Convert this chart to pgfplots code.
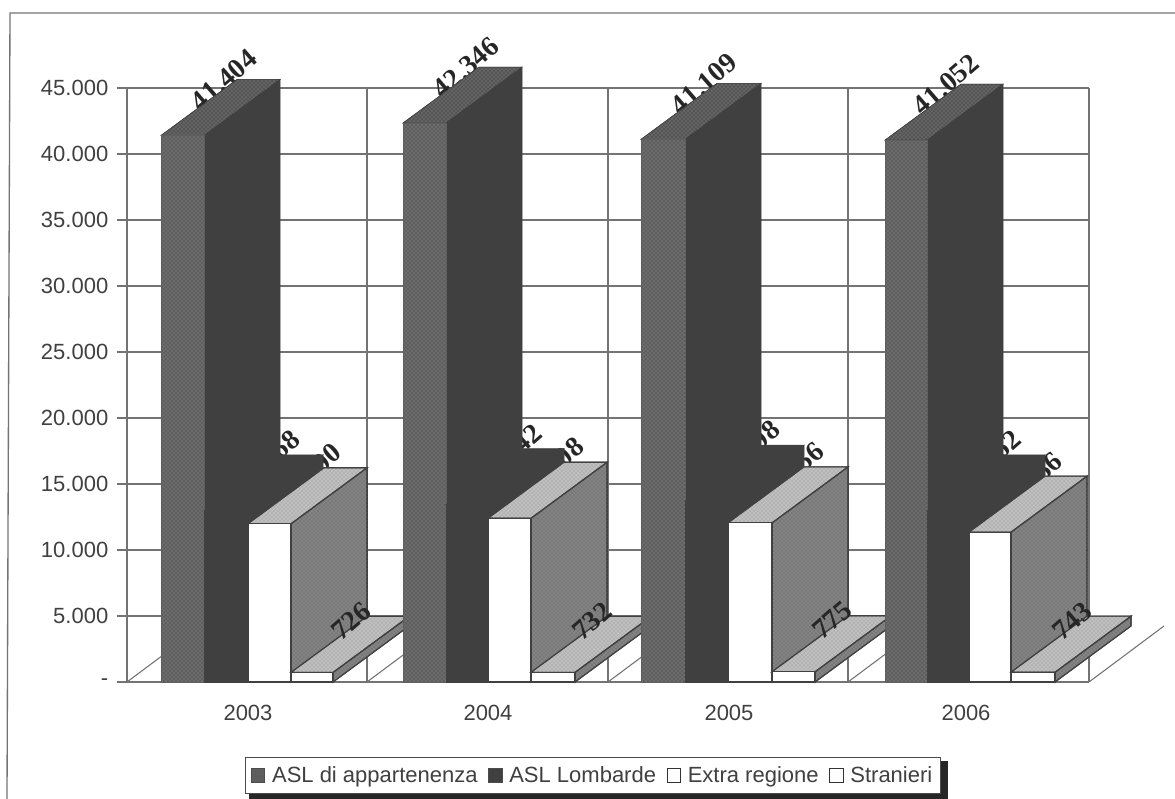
\documentclass[border=0pt]{standalone}
\usepackage{fontspec}
\setmainfont{Liberation Sans}
\newfontfamily\lblserif{Liberation Serif}
\usepackage{pgfplots}
\pgfplotsset{compat=1.18}
\usetikzlibrary{patterns}
\definecolor{txt}{gray}{0.25}
\definecolor{gridc}{gray}{0.45}
\definecolor{aF}{gray}{0.37}
\definecolor{aD}{gray}{0.62}
\definecolor{aT}{gray}{0.33}
\definecolor{dark}{gray}{0.25}
\definecolor{cT}{gray}{0.70}
\definecolor{cTd}{gray}{0.95}
\definecolor{cS}{gray}{0.47}
\definecolor{cSd}{gray}{0.68}
\tikzset{
 aFront/.style={fill=aF,draw=aF,line width=0.4pt,postaction={pattern=crosshatch dots,pattern color=aD}},
 aSide/.style={fill=dark,draw=dark,line width=0.4pt},
 aTop/.style={fill=aT,draw=dark,line width=0.4pt,postaction={pattern=crosshatch dots,pattern color=aD}},
 bFront/.style={fill=dark,draw=dark,line width=0.4pt},
 bSide/.style={fill=dark,draw=dark,line width=0.4pt},
 bTop/.style={fill=dark,draw=dark,line width=0.4pt},
 cFront/.style={fill=white,draw=black!75,line width=0.8pt},
 cSide/.style={fill=cS,draw=black!75,line width=0.8pt,postaction={pattern=crosshatch dots,pattern color=cSd}},
 cTop/.style={fill=cT,draw=black!75,line width=0.8pt,postaction={pattern=crosshatch dots,pattern color=cTd}},
 vlab/.style={font=\lblserif\bfseries\fontsize{21}{21}\selectfont,rotate=41,inner sep=0pt,text=black!85},
}
% one 3D bar: left px, right px, value, style prefix
\newcommand{\tdbar}[4]{%
 \edef\tmp{\noexpand\addplot[forget plot,#4Side] coordinates {(#2,0) (\the\numexpr#2+76\relax,4242) (\the\numexpr#2+76\relax,\the\numexpr#3+4242\relax) (#2,#3)} --cycle;}\tmp
 \edef\tmp{\noexpand\addplot[forget plot,#4Top] coordinates {(#1,#3) (#2,#3) (\the\numexpr#2+76\relax,\the\numexpr#3+4242\relax) (\the\numexpr#1+76\relax,\the\numexpr#3+4242\relax)} --cycle;}\tmp
 \edef\tmp{\noexpand\addplot[forget plot,#4Front] coordinates {(#1,0) (#2,0) (#2,#3) (#1,#3)} --cycle;}\tmp
}
% value label: x px, value, raise (data units), text
\newcommand{\tdlab}[4]{%
 \edef\tmp{\noexpand\node[vlab] at (axis cs:#1,\the\numexpr#2+#3\relax) {#4};}\tmp
}
\newcommand{\floorline}[1]{%
 \edef\tmp{\noexpand\addplot[forget plot,gridc,line width=0.8pt] coordinates {(#1,0) (\the\numexpr#1+75\relax,4242)};}\tmp
}
\begin{document}
\begin{tikzpicture}
\useasboundingbox (-95.25pt,-87.75pt) rectangle (785.999pt,511.5pt);
\begin{axis}[
 scale only axis, width=721.5pt, height=445.5pt,
 at={(0,0)}, anchor=south west,
 xmin=127, xmax=1089, ymin=0, ymax=45000,
 clip=false, scaled y ticks=false,
 axis x line=bottom, axis y line=left,
 axis line style={-,gridc,line width=0.9pt},
 xtick={248,488,729,966}, xticklabels={2003,2004,2005,2006},
 minor xtick={127,367,608,848,1089},
 xminorgrids=true, xmajorgrids=false, ymajorgrids=true,
 minor grid style={gridc,line width=0.9pt},
 major grid style={gridc,line width=0.9pt},
 ytick={0,5000,10000,15000,20000,25000,30000,35000,40000,45000},
 yticklabels={-,5.000,10.000,15.000,20.000,25.000,30.000,35.000,40.000,45.000},
 tick align=outside, major tick length=7.5pt, minor tick length=0pt,
 y tick style={gridc,line width=0.9pt},
 x tick style={draw=none},
 minor x tick style={draw=none},
 ticklabel style={font=\fontsize{16.5}{16.5}\selectfont,text=txt},
 xticklabel style={yshift=-6pt},
 yticklabel style={xshift=-3pt},
 legend style={at={(axis cs:593,-7090)},anchor=center,draw=black!70,line width=0.8pt,
   font=\fontsize{16.5}{16.5}\selectfont,text=txt,inner xsep=4pt,inner ysep=5pt,
   /tikz/every odd column/.append style={column sep=3pt},
   /tikz/every even column/.append style={column sep=6pt}},
 legend columns=4, legend cell align=left,
 legend image code/.code={\draw[#1] (0pt,-5pt) rectangle (10pt,5pt);},
]
\addlegendimage{fill=aF,draw=black!70,line width=0.8pt}
\addlegendimage{fill=dark,draw=black!70,line width=0.8pt}
\addlegendimage{fill=white,draw=black!80,line width=0.8pt}
\addlegendimage{fill=white,draw=black!80,line width=0.8pt}
\legend{ASL di appartenenza,ASL Lombarde,Extra regione,Stranieri}
% outer frame
\addplot[forget plot,gridc,line width=1pt] coordinates {(7,-8864) (10,50682) (1175,50682)};
\floorline{127}\floorline{367}\floorline{608}\floorline{848}\floorline{1089}
% legend shadow
\addplot[forget plot,fill=black!85,draw=none] coordinates {(249,-6000) (948,-6000) (948,-8864) (249,-8864)} --cycle;
% 2003
\tdlab{224}{41404}{4200}{41.404}
\tdlab{267}{12968}{3800}{12.968}
\tdlab{309}{11990}{3800}{11.990}
\tdbar{161}{204}{41404}{a}\tdbar{204}{247}{12968}{b}\tdbar{248}{291}{11990}{c}\tdbar{291}{333}{726}{c}
\tdlab{351}{726}{3900}{726}
% 2004
\tdlab{466}{42346}{4200}{42.346}
\tdlab{509}{13442}{3800}{13.442}
\tdlab{551}{12408}{3800}{12.408}
\tdbar{403}{446}{42346}{a}\tdbar{446}{488}{13442}{b}\tdbar{488}{531}{12408}{c}\tdbar{531}{575}{732}{c}
\tdlab{592}{732}{3900}{732}
% 2005
\tdlab{704}{41109}{4200}{41.109}
\tdlab{747}{13698}{3800}{13.698}
\tdlab{791}{12056}{3800}{12.056}
\tdbar{641}{685}{41109}{a}\tdbar{685}{728}{13698}{b}\tdbar{728}{772}{12056}{c}\tdbar{772}{815}{775}{c}
\tdlab{832}{775}{3900}{775}
% 2006
\tdlab{946}{41052}{4200}{41.052}
\tdlab{988}{12962}{3800}{12.962}
\tdlab{1030}{11356}{3800}{11.356}
\tdbar{885}{927}{41052}{a}\tdbar{927}{969}{12962}{b}\tdbar{969}{1011}{11356}{c}\tdbar{1011}{1055}{743}{c}
\tdlab{1072}{743}{3900}{743}
\end{axis}
\end{tikzpicture}
\end{document}
